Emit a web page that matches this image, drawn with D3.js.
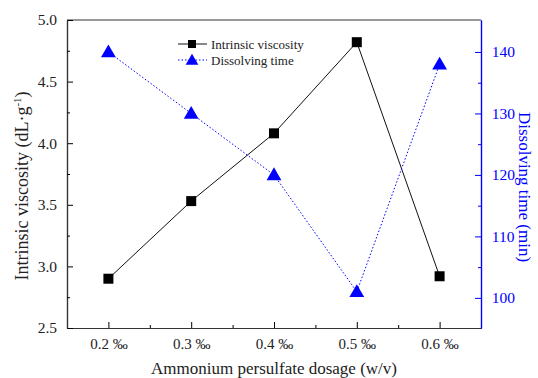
<!DOCTYPE html>
<html><head><meta charset="utf-8">
<script src="https://cdn.jsdelivr.net/npm/d3@7"></script>
<style>body{margin:0;background:#fff}svg{display:block;font-family:"Liberation Serif","Times New Roman",serif}</style>
</head><body><svg id="c" width="538" height="378"></svg>
<script>
const dosage = [0.2, 0.3, 0.4, 0.5, 0.6];
const tickLabels = ["0.2 ‰", "0.3 ‰", "0.4 ‰", "0.5 ‰", "0.6 ‰"];
const viscosity = [2.90, 3.53, 4.08, 4.82, 2.92];
const dissolvingTime = [140, 130, 120, 101, 138];
const leftTicks = [2.5, 3.0, 3.5, 4.0, 4.5, 5.0];
const rightTicks = [100, 110, 120, 130, 140];

const svg = d3.select("#c");
const L = 67, R = 481, T = 20, B = 328;
const x = d3.scaleLinear().domain([0.15, 0.65]).range([L, R]);
const yL = d3.scaleLinear().domain([2.5, 5.0]).range([B, T]);
const yR = d3.scaleLinear().domain([95.1, 145.2]).range([B, T]);
const blue = "#0000ff";

svg.append("line").attr("x1", L).attr("x2", R).attr("y1", T).attr("y2", T).attr("stroke", "#333").attr("stroke-width", 1.2);

const gx = svg.append("g").attr("transform", `translate(0,${B})`);
gx.call(d3.axisBottom(x).tickValues(dosage).tickSize(-6).tickFormat((d, i) => tickLabels[i]).tickSizeOuter(0));
gx.append("g").call(d3.axisBottom(x).tickValues([0.25, 0.35, 0.45, 0.55]).tickSize(-3).tickFormat("").tickSizeOuter(0));
gx.selectAll(".domain").attr("stroke", "#333").attr("stroke-width", 1.2);
gx.selectAll("text").attr("font-size", 15).attr("fill", "#222").attr("dy", "1.2em").attr("font-family", "Liberation Serif");

const gl = svg.append("g").attr("transform", `translate(${L},0)`);
gl.call(d3.axisLeft(yL).tickValues(leftTicks).tickSize(-6).tickFormat(d3.format(".1f")).tickSizeOuter(0));
gl.append("g").call(d3.axisLeft(yL).tickValues([2.75, 3.25, 3.75, 4.25, 4.75]).tickSize(-3).tickFormat("").tickSizeOuter(0));
gl.selectAll(".domain").attr("stroke", "#333").attr("stroke-width", 1.2);
gl.selectAll("text").attr("font-size", 15.5).attr("fill", "#222").attr("dx", "-0.45em").attr("font-family", "Liberation Serif");

const gr = svg.append("g").attr("transform", `translate(${R},0)`);
gr.call(d3.axisRight(yR).tickValues(rightTicks).tickSize(-6).tickFormat(d3.format("d")).tickSizeOuter(0));
gr.append("g").call(d3.axisRight(yR).tickValues([105, 115, 125, 135]).tickSize(-3).tickFormat("").tickSizeOuter(0));
gr.selectAll(".domain").attr("stroke", blue).attr("stroke-width", 1.2);
gr.selectAll("line").attr("stroke", blue);
gr.selectAll("text").attr("font-size", 15.5).attr("fill", blue).attr("dx", "0.5em").attr("font-family", "Liberation Serif");

svg.append("text").attr("transform", `translate(28,186) rotate(-90)`).attr("text-anchor", "middle")
  .attr("font-size", 18).attr("fill", "#222")
  .html('Intrinsic viscosity (dL·g<tspan dy="-7" font-size="11">-1</tspan><tspan dy="7">)</tspan>');
svg.append("text").attr("transform", `translate(519,187) rotate(90)`).attr("text-anchor", "middle")
  .attr("font-size", 17).attr("fill", blue).text("Dissolving time (min)");
svg.append("text").attr("x", 274).attr("y", 374).attr("text-anchor", "middle")
  .attr("font-size", 17).attr("fill", "#222").text("Ammonium persulfate dosage (w/v)");

const lineL = d3.line().x((d, i) => x(dosage[i])).y(d => yL(d));
svg.append("path").datum(viscosity).attr("d", lineL).attr("fill", "none").attr("stroke", "#111").attr("stroke-width", 1);
svg.selectAll(".sq").data(viscosity).enter().append("path")
  .attr("transform", (d, i) => `translate(${x(dosage[i])},${yL(d)})`)
  .attr("d", d3.symbol().type(d3.symbolSquare).size(100)).attr("fill", "#000");

const lineR = d3.line().x((d, i) => x(dosage[i])).y(d => yR(d));
svg.append("path").datum(dissolvingTime).attr("d", lineR).attr("fill", "none").attr("stroke", blue).attr("stroke-width", 1).attr("stroke-dasharray", "1.5,2");
svg.selectAll(".tri").data(dissolvingTime).enter().append("path")
  .attr("transform", (d, i) => `translate(${x(dosage[i])},${yR(d) + 1})`)
  .attr("d", d3.symbol().type(d3.symbolTriangle).size(95)).attr("fill", blue);

const lg = svg.append("g");
lg.append("line").attr("x1", 178).attr("x2", 207).attr("y1", 44).attr("y2", 44).attr("stroke", "#111");
lg.append("path").attr("transform", "translate(192,44)").attr("d", d3.symbol().type(d3.symbolSquare).size(64)).attr("fill", "#000");
lg.append("text").attr("x", 211).attr("y", 48.5).attr("font-size", 13).attr("fill", "#222").text("Intrinsic viscosity");
lg.append("line").attr("x1", 178).attr("x2", 207).attr("y1", 60).attr("y2", 60).attr("stroke", blue).attr("stroke-dasharray", "1.5,2");
lg.append("path").attr("transform", "translate(192,61)").attr("d", d3.symbol().type(d3.symbolTriangle).size(70)).attr("fill", blue);
lg.append("text").attr("x", 211).attr("y", 64.5).attr("font-size", 13).attr("fill", "#222").text("Dissolving time");
</script></body></html>
